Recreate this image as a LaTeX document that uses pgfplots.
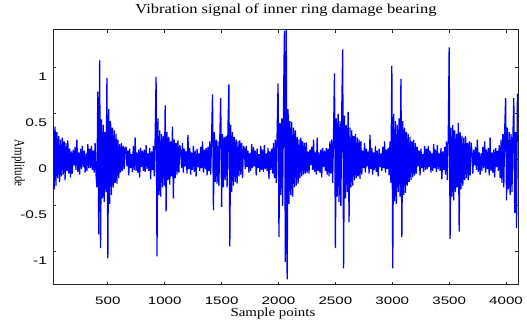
\documentclass[border=0pt]{standalone}
\usepackage{fontspec}
\usepackage{pgfplots}
\usepackage{pgfplotstable}
\pgfplotsset{compat=1.18}
\setmainfont{Liberation Serif}
\newfontfamily\tickfont[FakeStretch=1.4]{Liberation Sans}
\newfontfamily\titlefont[FakeStretch=1.2]{Liberation Serif}
\definecolor{sigblue}{RGB}{0,0,255}
\pgfplotstableread[row sep=\\]{
x y\\
20 0.44\\ 28 -0.32\\ 36 0.36\\ 44 -0.28\\ 52 0.30\\ 60 -0.20\\ 68 0.26\\ 76 -0.24\\ 84 0.22\\ 92 -0.18\\
100 0.24\\ 108 -0.16\\ 116 0.20\\ 124 -0.22\\ 132 0.18\\ 140 -0.12\\ 148 0.21\\ 156 -0.15\\ 164 0.12\\ 172 -0.19\\
180 0.09\\ 188 -0.15\\ 196 0.11\\ 204 -0.06\\ 212 0.14\\ 220 -0.11\\ 228 0.22\\ 236 -0.13\\ 244 0.08\\ 252 -0.16\\
260 0.12\\ 268 -0.10\\ 276 0.15\\ 284 -0.08\\ 292 0.10\\ 300 -0.14\\ 308 0.07\\ 316 -0.12\\ 324 0.17\\ 332 -0.09\\
340 0.12\\ 348 -0.09\\ 356 0.15\\ 364 -0.11\\ 372 0.10\\ 380 -0.14\\ 388 0.18\\ 396 -0.16\\ 404 -0.30\\ 412 0.74\\
420 -0.81\\ 428 1.08\\ 436 -0.96\\ 444 0.44\\ 452 -0.42\\ 460 0.38\\ 468 -0.46\\ 476 0.30\\ 484 -0.35\\ 492 0.89\\
500 -1.07\\ 508 0.55\\ 516 -0.48\\ 524 0.42\\ 532 -0.38\\ 540 0.35\\ 548 -0.30\\ 556 0.32\\ 564 -0.25\\ 572 0.28\\
580 -0.26\\ 588 0.22\\ 596 -0.20\\ 604 0.17\\ 612 -0.14\\ 620 0.18\\ 628 -0.12\\ 636 0.15\\ 644 -0.10\\ 652 0.13\\
660 0.14\\ 668 -0.07\\ 676 0.10\\ 684 -0.17\\ 692 0.12\\ 700 -0.09\\ 708 0.06\\ 716 -0.13\\ 724 0.15\\ 732 -0.11\\
740 0.24\\ 748 -0.12\\ 756 0.08\\ 764 -0.14\\ 772 0.11\\ 780 -0.19\\ 788 0.13\\ 796 -0.08\\ 804 0.10\\ 812 -0.12\\
820 0.11\\ 828 -0.13\\ 836 0.16\\ 844 -0.10\\ 852 0.07\\ 860 -0.12\\ 868 0.13\\ 876 -0.21\\ 884 0.09\\ 892 -0.11\\
900 0.15\\ 908 -0.18\\ 916 0.25\\ 924 0.90\\ 932 -1.05\\ 940 0.45\\ 948 -0.38\\ 956 0.32\\ 964 -0.40\\ 972 0.28\\
980 -0.30\\ 988 0.26\\ 996 -0.28\\ 1004 0.59\\ 1012 -0.56\\ 1020 0.30\\ 1028 -0.22\\ 1036 0.25\\ 1044 -0.27\\ 1052 0.20\\
1060 -0.18\\ 1068 0.36\\ 1076 -0.42\\ 1084 0.22\\ 1092 -0.20\\ 1100 0.18\\ 1108 -0.16\\ 1116 0.21\\ 1124 -0.14\\ 1132 0.16\\
1140 0.10\\ 1148 -0.09\\ 1156 0.18\\ 1164 -0.14\\ 1172 0.12\\ 1180 -0.07\\ 1188 0.09\\ 1196 -0.15\\ 1204 0.27\\ 1212 -0.10\\
1220 0.13\\ 1228 -0.16\\ 1236 0.08\\ 1244 -0.11\\ 1252 0.15\\ 1260 -0.13\\ 1268 0.10\\ 1276 -0.18\\ 1284 0.12\\ 1292 -0.08\\
1300 0.07\\ 1308 -0.12\\ 1316 0.14\\ 1324 -0.09\\ 1332 0.20\\ 1340 -0.14\\ 1348 0.11\\ 1356 -0.10\\ 1364 0.13\\ 1372 -0.17\\
1380 0.14\\ 1388 -0.12\\ 1396 0.20\\ 1404 -0.16\\ 1412 0.25\\ 1420 0.71\\ 1428 -0.55\\ 1436 0.30\\ 1444 -0.24\\ 1452 0.22\\
1460 -0.26\\ 1468 0.20\\ 1476 -0.28\\ 1484 0.24\\ 1492 0.67\\ 1500 -0.51\\ 1508 0.28\\ 1516 -0.30\\ 1524 0.25\\ 1532 -0.22\\
1540 0.26\\ 1548 -0.30\\ 1556 0.35\\ 1564 0.82\\ 1572 -0.94\\ 1580 0.38\\ 1588 -0.35\\ 1596 0.30\\ 1604 -0.28\\ 1612 0.25\\
1620 -0.24\\ 1628 0.22\\ 1636 -0.26\\ 1644 0.20\\ 1652 -0.18\\ 1660 0.21\\ 1668 -0.16\\ 1676 0.18\\ 1684 -0.20\\ 1692 0.15\\
1700 0.12\\ 1708 -0.10\\ 1716 0.15\\ 1724 -0.08\\ 1732 0.10\\ 1740 -0.14\\ 1748 0.07\\ 1756 -0.12\\ 1764 0.17\\ 1772 -0.09\\
1780 0.14\\ 1788 -0.07\\ 1796 0.10\\ 1804 -0.17\\ 1812 0.12\\ 1820 -0.09\\ 1828 0.06\\ 1836 -0.13\\ 1844 0.15\\ 1852 -0.11\\
1860 0.11\\ 1868 -0.13\\ 1876 0.16\\ 1884 -0.10\\ 1892 0.07\\ 1900 -0.12\\ 1908 0.13\\ 1916 -0.21\\ 1924 0.09\\ 1932 -0.11\\
1940 0.12\\ 1948 -0.15\\ 1956 0.18\\ 1964 -0.20\\ 1972 0.22\\ 1980 -0.25\\ 1988 0.30\\ 1996 0.83\\ 2004 -0.84\\ 2012 0.40\\
2020 -0.38\\ 2028 0.45\\ 2036 -0.50\\ 2044 0.60\\ 2052 1.40\\ 2060 -1.11\\ 2068 1.50\\ 2076 -1.30\\ 2084 0.55\\ 2092 -0.48\\
2100 0.42\\ 2108 -0.38\\ 2116 0.41\\ 2124 -0.40\\ 2132 0.35\\ 2140 -0.30\\ 2148 0.32\\ 2156 -0.28\\ 2164 0.25\\ 2172 -0.26\\
2180 0.22\\ 2188 -0.20\\ 2196 0.24\\ 2204 -0.18\\ 2212 0.20\\ 2220 -0.16\\ 2228 0.18\\ 2236 -0.15\\ 2244 0.19\\ 2252 -0.14\\
2260 0.09\\ 2268 -0.15\\ 2276 0.11\\ 2284 -0.06\\ 2292 0.14\\ 2300 -0.11\\ 2308 0.22\\ 2316 -0.13\\ 2324 0.08\\ 2332 -0.16\\
2340 0.24\\ 2348 -0.12\\ 2356 0.08\\ 2364 -0.14\\ 2372 0.11\\ 2380 -0.19\\ 2388 0.13\\ 2396 -0.08\\ 2404 0.10\\ 2412 -0.12\\
2420 0.13\\ 2428 -0.16\\ 2436 0.12\\ 2444 -0.18\\ 2452 0.20\\ 2460 -0.15\\ 2468 0.22\\ 2476 -0.25\\ 2484 0.30\\ 2492 0.94\\
2500 -0.96\\ 2508 0.45\\ 2516 -0.40\\ 2524 0.50\\ 2532 -0.46\\ 2540 0.42\\ 2548 -0.50\\ 2556 0.55\\ 2564 1.20\\ 2572 -1.18\\
2580 0.48\\ 2588 -0.42\\ 2596 0.38\\ 2604 -0.35\\ 2612 0.52\\ 2620 -0.68\\ 2628 0.35\\ 2636 -0.30\\ 2644 0.32\\ 2652 -0.28\\
2660 0.26\\ 2668 -0.22\\ 2676 0.28\\ 2684 -0.20\\ 2692 0.24\\ 2700 -0.18\\ 2708 0.22\\ 2716 -0.21\\ 2724 0.20\\ 2732 -0.16\\
2740 0.10\\ 2748 -0.09\\ 2756 0.18\\ 2764 -0.14\\ 2772 0.12\\ 2780 -0.07\\ 2788 0.09\\ 2796 -0.15\\ 2804 0.27\\ 2812 -0.10\\
2820 0.13\\ 2828 -0.16\\ 2836 0.08\\ 2844 -0.11\\ 2852 0.15\\ 2860 -0.13\\ 2868 0.10\\ 2876 -0.18\\ 2884 0.12\\ 2892 -0.08\\
2900 0.07\\ 2908 -0.12\\ 2916 0.14\\ 2924 -0.09\\ 2932 0.20\\ 2940 -0.14\\ 2948 0.11\\ 2956 -0.10\\ 2964 0.13\\ 2972 -0.17\\
2980 0.20\\ 2988 -0.25\\ 2996 1.02\\ 3004 -1.18\\ 3012 0.50\\ 3020 -0.45\\ 3028 0.42\\ 3036 -0.48\\ 3044 0.38\\ 3052 -0.35\\
3060 0.45\\ 3068 -0.40\\ 3076 0.88\\ 3084 -0.84\\ 3092 0.42\\ 3100 -0.38\\ 3108 0.35\\ 3116 -0.36\\ 3124 0.30\\ 3132 -0.28\\
3140 0.28\\ 3148 -0.24\\ 3156 0.25\\ 3164 -0.22\\ 3172 0.20\\ 3180 -0.19\\ 3188 0.22\\ 3196 -0.17\\ 3204 0.18\\ 3212 -0.15\\
3220 0.14\\ 3228 -0.07\\ 3236 0.10\\ 3244 -0.17\\ 3252 0.12\\ 3260 -0.09\\ 3268 0.06\\ 3276 -0.13\\ 3284 0.15\\ 3292 -0.11\\
3300 0.12\\ 3308 -0.10\\ 3316 0.15\\ 3324 -0.08\\ 3332 0.10\\ 3340 -0.14\\ 3348 0.07\\ 3356 -0.12\\ 3364 0.17\\ 3372 -0.09\\
3380 0.11\\ 3388 -0.13\\ 3396 0.16\\ 3404 -0.10\\ 3412 0.07\\ 3420 -0.12\\ 3428 0.13\\ 3436 -0.21\\ 3444 0.09\\ 3452 -0.11\\
3460 0.14\\ 3468 -0.16\\ 3476 0.20\\ 3484 -0.22\\ 3492 0.25\\ 3500 1.22\\ 3508 -0.86\\ 3516 0.35\\ 3524 -0.40\\ 3532 0.38\\
3540 -0.44\\ 3548 0.32\\ 3556 -0.35\\ 3564 0.28\\ 3572 -0.30\\ 3580 0.40\\ 3588 -0.78\\ 3596 0.30\\ 3604 -0.32\\ 3612 0.26\\
3620 -0.28\\ 3628 0.24\\ 3636 -0.22\\ 3644 0.26\\ 3652 -0.20\\ 3660 0.18\\ 3668 -0.22\\ 3676 0.20\\ 3684 -0.17\\ 3692 0.19\\
3700 0.09\\ 3708 -0.15\\ 3716 0.11\\ 3724 -0.06\\ 3732 0.14\\ 3740 -0.11\\ 3748 0.22\\ 3756 -0.13\\ 3764 0.08\\ 3772 -0.16\\
3780 0.07\\ 3788 -0.12\\ 3796 0.14\\ 3804 -0.09\\ 3812 0.20\\ 3820 -0.14\\ 3828 0.11\\ 3836 -0.10\\ 3844 0.13\\ 3852 -0.17\\
3860 0.24\\ 3868 -0.12\\ 3876 0.08\\ 3884 -0.14\\ 3892 0.11\\ 3900 -0.19\\ 3908 0.13\\ 3916 -0.08\\ 3924 0.10\\ 3932 -0.12\\
3940 0.16\\ 3948 -0.20\\ 3956 0.22\\ 3964 -0.25\\ 3972 0.28\\ 3980 -0.30\\ 3988 0.32\\ 3996 0.67\\ 4004 -0.44\\ 4012 0.35\\
4020 -0.32\\ 4028 0.30\\ 4036 -0.38\\ 4044 0.28\\ 4052 -0.35\\ 4060 0.25\\ 4068 0.67\\ 4076 -0.58\\ 4084 0.30\\ 4092 -0.74\\
4100 0.72\\
}\sig
\begin{document}
\begin{tikzpicture}
\path[use as bounding box] (-39.75pt,-26.25pt) rectangle (355.5pt,213.75pt);
\begin{axis}[
  at={(0pt,0pt)}, anchor=south west,
  scale only axis, width=348.75pt, height=191.25pt,
  xmin=18, xmax=4105, ymin=-1.36, ymax=1.41,
  xtick={500,1000,1500,2000,2500,3000,3500,4000},
  xticklabels={500,1000,1500,2000,2500,3000,3500,4000},
  ytick={-1,-0.5,0,0.5,1},
  yticklabels={-1,-0.5,0,0.5,1},
  xtick pos=both, ytick pos=both,
  tick align=inside, major tick length=2.5pt,
  tick style={black!85, line width=0.6pt},
  axis line style={black!85, line width=0.75pt},
  xticklabel style={font=\tickfont\fontsize{8.1}{9}\selectfont, anchor=center, yshift=-12pt, inner sep=0pt},
  yticklabel style={font=\tickfont\fontsize{8.3}{9}\selectfont, yshift=-7pt, xshift=-1pt},
  title={\titlefont\fontsize{10.3}{12}\selectfont Vibration signal of inner ring damage bearing},
  title style={at={(axis description cs:0.501,1.047)}, anchor=center},
  xlabel={\titlefont\fontsize{9.3}{10}\selectfont Sample points},
  xlabel style={at={(axis description cs:0.473,-0.1365)}, anchor=south, inner sep=0pt},
  ylabel={\scalebox{1}[1.3]{\fontsize{8.2}{10}\selectfont Amplitude}},
  every axis y label/.style={at={(axis description cs:-0.0746,0.478)}, rotate=-90, anchor=center},
]
\addplot[sigblue, line width=0.95pt, line join=bevel] table[x=x, y=y] {\sig};
\end{axis}
\end{tikzpicture}
\end{document}
